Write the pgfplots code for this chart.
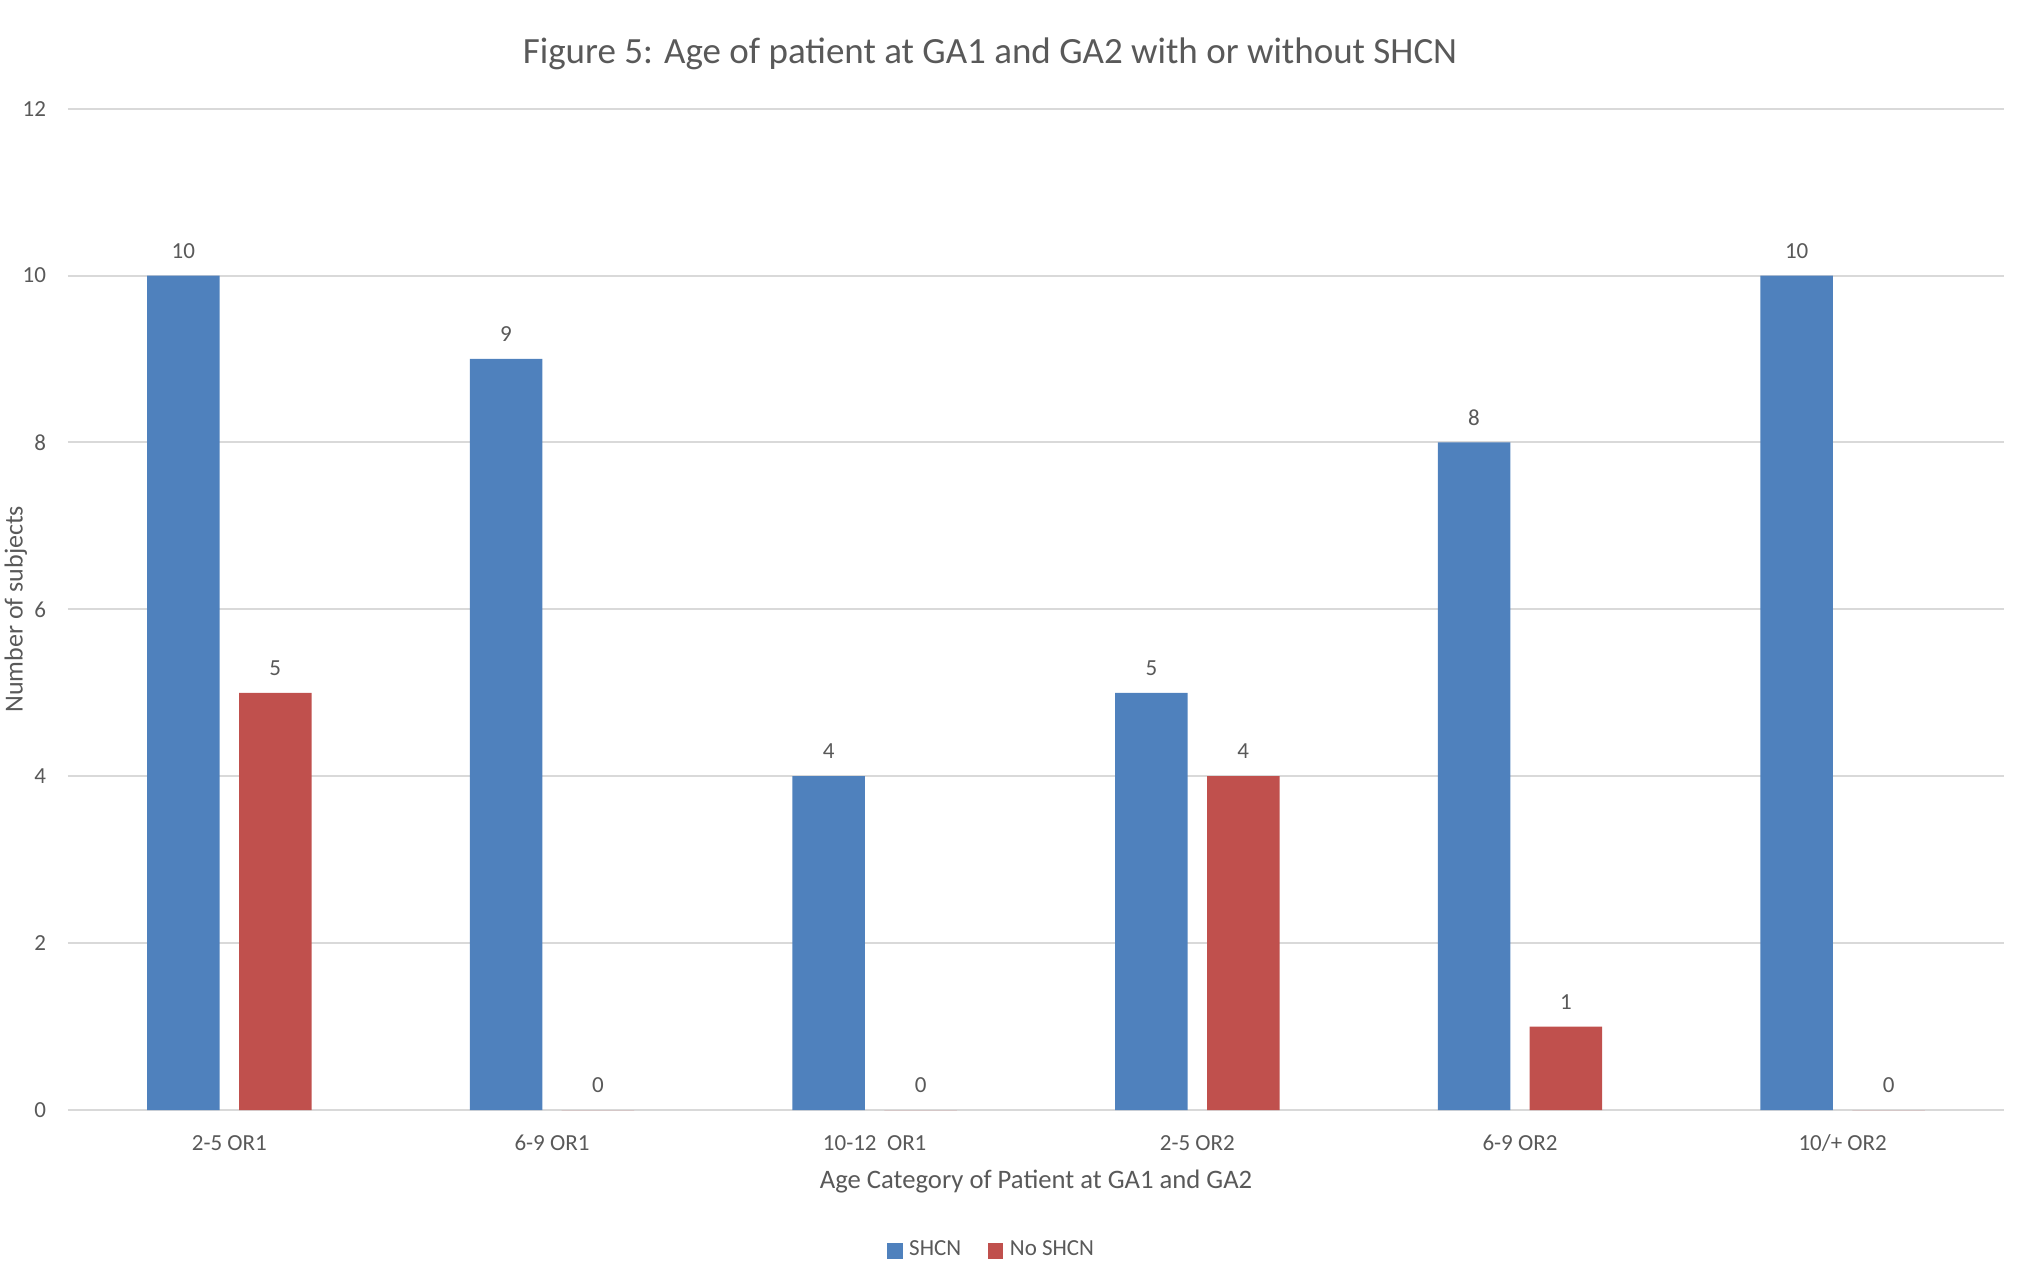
\documentclass[border=0pt]{standalone}
\usepackage{pgfplots}
\pgfplotsset{compat=1.18}
\usepackage{fontspec}
\setmainfont{Carlito}
\definecolor{shcn}{HTML}{4F81BD}
\definecolor{noshcn}{HTML}{C0504D}
\definecolor{txt}{HTML}{595959}
\definecolor{gridc}{HTML}{D9D9D9}

\begin{document}
\begin{tikzpicture}[font=\fontsize{6.9}{8}\selectfont, text=txt]
% page frame; the plot area starts at the origin
\path[use as bounding box] (-20.4pt,-49.2pt) rectangle (588.6pt,333pt);
\clip (-20.4pt,-49.2pt) rectangle (588.6pt,333pt);
\begin{axis}[
  at={(0,0)}, anchor=south west,
  scale only axis,
  width=580.8pt, height=300.4pt,
  xmin=-0.5, xmax=5.5, ymin=0, ymax=12,
  clip=false,
  /pgf/number format/assume math mode=true,
  axis x line*=bottom, axis y line*=left,
  x axis line style={draw=gridc, line width=0.8pt},
  y axis line style={draw=none},
  ytick={0,2,...,12},
  ymajorgrids,
  major grid style={draw=gridc, line width=0.6pt},
  xtick={0,...,5},
  xticklabels={2-5 OR1, 6-9 OR1, 10-12\ \ OR1, 2-5 OR2, 6-9 OR2, 10/+ OR2},
  major tick length=0pt,
  tick style={draw=none},
  tick label style={font=\fontsize{6.9}{8}\selectfont, text=txt},
  yticklabel style={inner sep=0pt, anchor=east, xshift=-6.4pt},
  xticklabel style={inner sep=0pt, anchor=base, yshift=-12pt},
  xlabel={Age Category of Patient at GA1 and GA2},
  xlabel style={at={(axis description cs:0.5,0)}, anchor=base, inner sep=0pt,
    yshift=-23.4pt, font=\fontsize{8}{9.5}\selectfont, text=txt},
  ylabel={Number of subjects},
  ylabel style={at={(axis description cs:-0.0235,0.5)}, anchor=base, inner sep=0pt,
    font=\fontsize{7.8}{9.5}\selectfont, text=txt},
  legend style={at={(0.4783,-0.1408)}, anchor=center, draw=none, fill=none,
    font=\fontsize{6.9}{8}\selectfont, text=txt, inner sep=0pt,
    /tikz/every even column/.append style={column sep=6pt}},
  legend columns=2,
  legend cell align=left,
  every node near coord/.append style={anchor=center, yshift=7.4pt,
    font=\fontsize{6.9}{8}\selectfont, text=txt},
]
\addlegendimage{legend image code/.code={\fill[shcn] (0pt,-2.1pt) rectangle (4.2pt,2.1pt);}}
\addlegendentry{SHCN}
\addlegendimage{legend image code/.code={\fill[noshcn] (0pt,-2.1pt) rectangle (4.2pt,2.1pt);}}
\addlegendentry{No SHCN}

% SHCN
\addplot[ybar, bar width=0.2246, bar shift=-0.1424, fill=shcn, draw=none,
  forget plot, nodes near coords,
  every node near coord/.append style={xshift=-13.78pt}]
  coordinates {(0,10) (1,9) (2,4) (3,5) (4,8) (5,10)};
% No SHCN
\addplot[ybar, bar width=0.2246, bar shift=0.1424, fill=noshcn, draw=none,
  forget plot, nodes near coords,
  every node near coord/.append style={xshift=13.78pt}]
  coordinates {(0,5) (1,0) (2,0) (3,4) (4,1) (5,0)};
\end{axis}
\node[font=\fontsize{11.1}{13}\selectfont, text=txt] at (276.6pt,316.8pt)
  {Figure 5: Age of patient at GA1 and GA2 with or without SHCN};
\end{tikzpicture}
\end{document}
